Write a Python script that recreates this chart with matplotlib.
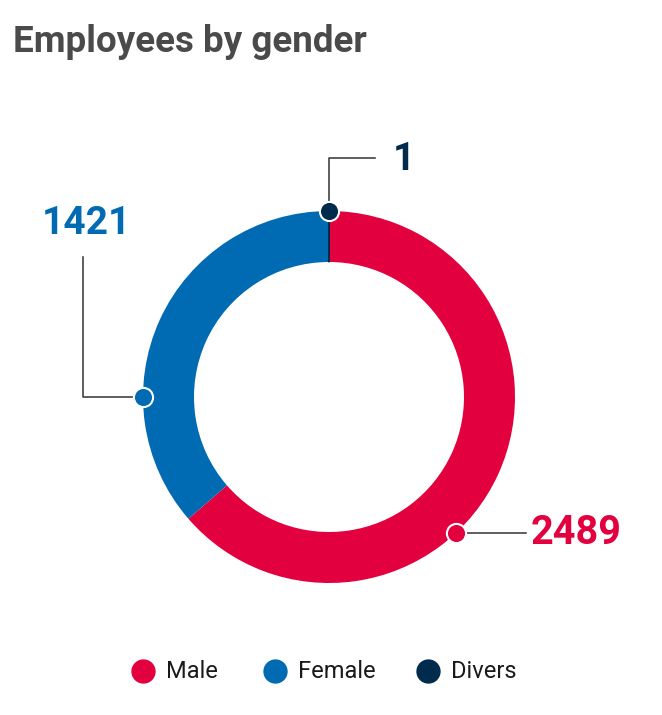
import numpy as np
import matplotlib.pyplot as plt

plt.rcParams['font.family'] = ['Roboto', 'DejaVu Sans']

labels = ['Male', 'Female', 'Divers']
values = [2489, 1421, 1]
colors = ['#e3003f', '#006ab3', '#002b4c']
# where each callout dot sits on the ring (degrees clockwise from 12 o'clock)
dot_angles = [137, 270, 0]

W, H = 662, 715
fig = plt.figure(figsize=(W / 100, H / 100), dpi=100)
ax = fig.add_axes([0, 0, 1, 1])

cx, cy = 329, H - 397
r_out, r_in = 186, 135

wedges, _ = ax.pie(values, colors=colors, startangle=90, counterclock=False,
                   center=(cx, cy), radius=r_out,
                   wedgeprops=dict(width=r_out - r_in, linewidth=0))
# the 1-person slice is too thin to see, give it a hairline edge
wedges[2].set_edgecolor(colors[2])
wedges[2].set_linewidth(1.0)

ax.set_xlim(0, W)
ax.set_ylim(0, H)
ax.set_aspect('equal')
ax.axis('off')

def pt(a, r=r_out):
    t = np.deg2rad(a)
    return cx + r * np.sin(t), cy + r * np.cos(t)

line_kw = dict(color='#333333', lw=1.1, zorder=3)

# Male callout
mx, my = pt(dot_angles[0])
ax.plot([mx, 526], [my, my], **line_kw)
ax.text(531, my, f'{values[0]}', color=colors[0], fontsize=28.5, fontweight='bold',
        ha='left', va='center')

# Female callout
fx, fy = pt(dot_angles[1])
ax.plot([fx, 83, 83], [fy, fy, H - 257], **line_kw)
ax.text(86, H - 224, f'{values[1]}', color=colors[1], fontsize=28, fontweight='bold',
        ha='center', va='center')

# Divers callout
dx, dy = pt(dot_angles[2])
ax.plot([dx, dx, 375], [dy, H - 158, H - 158], **line_kw)
ax.text(404, H - 159, f'{values[2]}', color=colors[2], fontsize=28, fontweight='bold',
        ha='center', va='center')

for (x, y), c in zip([(mx, my), (fx, fy), (dx, dy)], colors):
    ax.plot(x, y, 'o', ms=13.8, mfc=c, mec='white', mew=1.5, zorder=4)

# title
fig.text(13 / W, 1 - 52 / H, 'Employees by gender', fontsize=26.5, fontweight='bold',
         color='#4a4a4a', ha='left', va='baseline')

# legend
leg_x = [143, 275, 428]
for x, lab, c in zip(leg_x, labels, colors):
    ax.plot(x, H - 671, 'o', ms=16.5, mfc=c, mec=c, clip_on=False)
    ax.text(x + 23, H - 671, lab, fontsize=17, color='#1a1a1a', ha='left', va='center')

plt.savefig('out.png', dpi=100, facecolor='white')
